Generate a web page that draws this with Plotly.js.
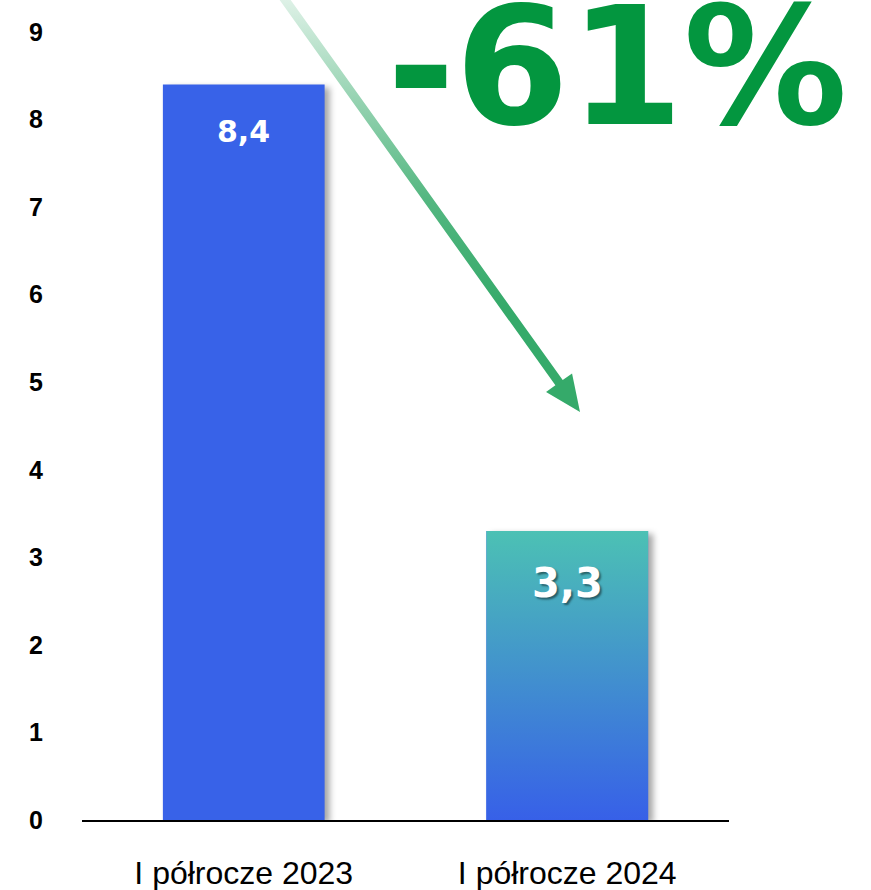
<!DOCTYPE html>
<html>
<head>
<meta charset="utf-8">
<script src="https://cdn.plot.ly/plotly-3.0.1.min.js"></script>
<style>
html,body{margin:0;padding:0;background:#fff;}
#chart{width:871px;height:890px;}
.barlayer .point path{filter:drop-shadow(5px 3px 3px rgba(0,0,0,0.35));}
</style>
</head>
<body>
<div id="chart"></div>
<script>
// ---- data ----
const categories = ["I półrocze 2023", "I półrocze 2024"];
const values = [8.4, 3.3];
const changeLabel = "-61%";
const yTicks = [0,1,2,3,4,5,6,7,8,9];

// ---- styles ----
const barColors = ["#3862E8", "#3760E8"];
const gradTop = "#4CC1B4", gradBottom = "#3760E8";
const green = "#03963F";
const barWidth = 0.5;
const idx = categories.map((c,i)=>i);

const fmt = v => String(v).replace('.', ',');

const traces = [];
traces.push({
  type: 'bar', x: idx, y: values, width: barWidth,
  marker: {color: barColors, line: {width: 0}},
  hoverinfo: 'skip', showlegend: false
});
// gradient overlay for the second bar, built from its value
const gi = 1, gv = values[gi];
traces.push({
  type: 'scatter', mode: 'lines',
  x: [gi - barWidth/2, gi + barWidth/2, gi + barWidth/2, gi - barWidth/2, gi - barWidth/2],
  y: [0, 0, gv, gv, 0],
  fill: 'toself', line: {width: 0},
  fillgradient: {type: 'vertical', colorscale: [[0, gradBottom], [1, gradTop]]},
  hoverinfo: 'skip', showlegend: false
});

// decorative arrow (pixel-like overlay axes)
const S = [278, -10], T = [580, 412];
const dx = T[0]-S[0], dy = T[1]-S[1], L = Math.hypot(dx, dy);
const u = [dx/L, dy/L], n = [-u[1], u[0]];
const hw = 4.5, headW = 16, headL = 36;
const B = [T[0]-headL*u[0], T[1]-headL*u[1]];
const pt = (p, k) => [p[0]+k*n[0], p[1]+k*n[1]];
const poly = [pt(S,hw), pt(B,hw), pt(B,headW), T, pt(B,-headW), pt(B,-hw), pt(S,-hw), pt(S,hw)];
traces.push({
  type: 'scatter', mode: 'lines', xaxis: 'x2', yaxis: 'y2',
  x: poly.map(p=>p[0]), y: poly.map(p=>p[1]),
  fill: 'toself', line: {width: 0},
  fillgradient: {type: 'vertical', colorscale: [
    [0, 'rgba(53,170,106,1)'], [0.25, 'rgba(53,170,106,1)'],
    [0.5, 'rgba(53,170,106,0.85)'], [0.75, 'rgba(53,170,106,0.5)'],
    [1, 'rgba(53,170,106,0.12)']]},
  hoverinfo: 'skip', showlegend: false
});

const annotations = [];
const labelSizes = [30, 40];
const labelShift = [-47, -52];
values.forEach((v, i) => {
  annotations.push({
    xref: 'x', yref: 'y', x: i, y: v, yshift: labelShift[i],
    text: '<b>' + fmt(v) + '</b>', showarrow: false,
    xanchor: 'center', yanchor: 'middle',
    font: {family: 'DejaVu Sans', size: labelSizes[i], color: '#ffffff',
           shadow: i === 1 ? '2px 2px 2px rgba(0,0,0,0.45)' : 'none'}
  });
});
annotations.push({
  xref: 'x2', yref: 'y2', x: 617, y: 67,
  text: '<b>' + changeLabel + '</b>', showarrow: false,
  xanchor: 'center', yanchor: 'middle',
  font: {family: 'DejaVu Sans', size: 164, color: green}
});

const layout = {
  width: 871, height: 890,
  margin: {l: 82, r: 142, t: 0, b: 70},
  paper_bgcolor: '#fff', plot_bgcolor: 'rgba(0,0,0,0)',
  showlegend: false,
  xaxis: {
    range: [-0.5, 1.5], tickvals: idx, ticktext: categories,
    showgrid: false, zeroline: false, showline: true, linecolor: '#000', linewidth: 1.5,
    ticks: '', ticklabelstandoff: 24,
    tickfont: {family: 'Liberation Sans, Arial, sans-serif', size: 32, color: '#000'}
  },
  yaxis: {
    range: [0, 9.365], tickvals: yTicks, ticktext: yTicks.map(t => '<b>' + t + '</b>'),
    showgrid: false, zeroline: false, showline: false, ticks: '',
    ticklabelstandoff: 38,
    tickfont: {family: 'Liberation Sans, Arial, sans-serif', size: 25, color: '#000'}
  },
  xaxis2: {overlaying: 'x', range: [82, 729], visible: false, fixedrange: true},
  yaxis2: {overlaying: 'y', range: [820, 0], visible: false, fixedrange: true},
  annotations: annotations
};

Plotly.newPlot('chart', traces, layout, {displayModeBar: false, staticPlot: true});
</script>
</body>
</html>
